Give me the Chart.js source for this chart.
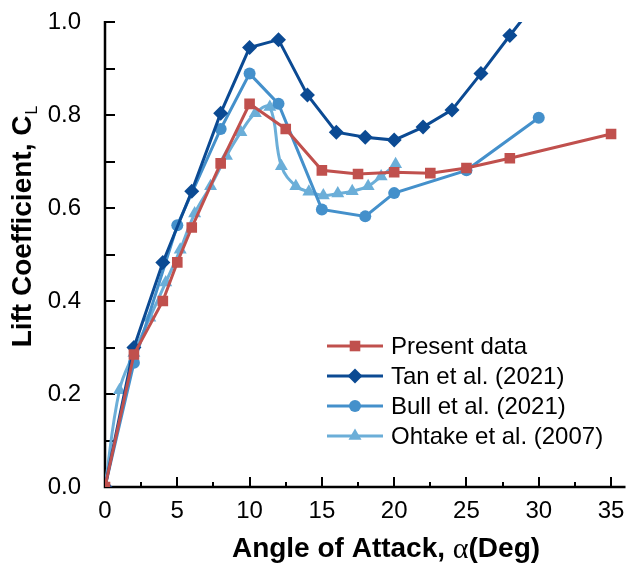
<!DOCTYPE html>
<html>
<head>
<meta charset="utf-8">
<script src="https://cdn.jsdelivr.net/npm/chart.js@4/dist/chart.umd.min.js"></script>
<style>
html, body { margin: 0; padding: 0; background: #fff; }
</style>
</head>
<body>
<canvas id="graphic_cl" width="633" height="571"></canvas>
<script>
// lift coefficient vs angle of attack

var presentAoa = [0, 2, 4, 5, 6, 8, 10, 12.5, 15, 17.5, 20, 22.5, 25, 28, 35];
var presentCl  = [0, 0.285, 0.40, 0.483, 0.558, 0.696, 0.824, 0.77, 0.681, 0.673, 0.677, 0.675, 0.686, 0.707, 0.759];

var tanAoa = [0, 2, 4, 6, 8, 10, 12, 14, 16, 18, 20, 22, 24, 26, 28, 30];
var tanCl  = [0, 0.30, 0.483, 0.636, 0.804, 0.945, 0.962, 0.843, 0.763, 0.752, 0.746, 0.774, 0.811, 0.889, 0.971, 1.05];

var bullAoa = [0, 2, 5, 8, 10, 12, 15, 18, 20, 25, 30];
var bullCl  = [0, 0.267, 0.563, 0.77, 0.889, 0.824, 0.597, 0.582, 0.632, 0.681, 0.794];

var ohtakeAoa = [0, 1, 2, 3.1, 4.2, 5.2, 6.2, 7.3, 8.4, 9.4, 10.4, 11.4, 12.2, 13.2, 14.1, 15.1, 16.1, 17.1, 18.2, 19.1, 20.1];
var ohtakeCl  = [0, 0.208, 0.288, 0.364, 0.44, 0.51, 0.588, 0.647, 0.712, 0.763, 0.804, 0.817, 0.69, 0.647, 0.635, 0.627, 0.631, 0.636, 0.647, 0.668, 0.694];

var seriesNames = ['Present data', 'Tan et al. (2021)', 'Bull et al. (2021)', 'Ohtake et al. (2007)'];

var xTicks = [0, 5, 10, 15, 20, 25, 30, 35];
var yTicks = [0, 0.2, 0.4, 0.6, 0.8, 1.0];

var FONT = '"Liberation Sans", Arial, sans-serif';

function toPoints(xs, ys) {
	return xs.map(function(x, i){ return {x: x, y: ys[i]}; });
}

function drawMarker(ctx, style, r, x, y, color) {
	ctx.fillStyle = color;
	ctx.beginPath();
	if (style === 'rect') {
		var s = r * Math.SQRT1_2;
		ctx.rect(x - s, y - s, 2 * s, 2 * s);
	} else if (style === 'rectRot') {
		ctx.moveTo(x - r, y); ctx.lineTo(x, y - r); ctx.lineTo(x + r, y); ctx.lineTo(x, y + r);
		ctx.closePath();
	} else if (style === 'triangle') {
		ctx.moveTo(x, y - r);
		ctx.lineTo(x + Math.sin(2 * Math.PI / 3) * r, y - Math.cos(2 * Math.PI / 3) * r);
		ctx.lineTo(x + Math.sin(4 * Math.PI / 3) * r, y - Math.cos(4 * Math.PI / 3) * r);
		ctx.closePath();
	} else {
		ctx.arc(x, y, r, 0, Math.PI * 2);
	}
	ctx.fill();
}

// axes with inside ticks, drawn under the data
var axesPlugin = {
	id: 'axesInside',
	beforeDatasetsDraw: function(chart) {
		var ctx = chart.ctx, a = chart.chartArea;
		var sx = chart.scales.x, sy = chart.scales.y;
		ctx.save();
		ctx.strokeStyle = '#000';
		ctx.lineWidth = 2;
		ctx.beginPath();
		for (var v = 0; v <= 35; v += 2.5) {
			var px = Math.round(sx.getPixelForValue(v));
			var len = (v % 5 === 0) ? 10 : 5;
			ctx.moveTo(px, a.bottom);
			ctx.lineTo(px, a.bottom - len);
		}
		for (var i = 0; i <= 10; i++) {
			var py = Math.round(sy.getPixelForValue(i / 10));
			ctx.moveTo(a.left, py);
			ctx.lineTo(a.left + 10, py);
		}
		ctx.stroke();
		ctx.lineWidth = 2.5;
		ctx.beginPath();
		ctx.moveTo(a.left, a.top - 1);
		ctx.lineTo(a.left, a.bottom);
		ctx.lineTo(a.right, a.bottom);
		ctx.stroke();
		ctx.restore();
	},
	afterDraw: function(chart) {
		var ctx = chart.ctx;
		ctx.save();
		ctx.fillStyle = '#000';
		ctx.textBaseline = 'middle';

		// x title
		var p1 = 'Angle of Attack, ', p2 = '\u03b1', p3 = '(Deg)';
		var fb = 'bold 28px ' + FONT, fg = '30px "Liberation Serif", serif';
		ctx.font = fb; var w1 = ctx.measureText(p1).width, w3 = ctx.measureText(p3).width;
		ctx.font = fg; var w2 = ctx.measureText(p2).width;
		var x0 = 386 - (w1 + w2 + w3) / 2, ty = 549;
		ctx.textAlign = 'left';
		ctx.font = fb; ctx.fillText(p1, x0, ty);
		ctx.font = fg; ctx.fillText(p2, x0 + w1, ty + 1);
		ctx.font = fb; ctx.fillText(p3, x0 + w1 + w2, ty);

		// y title with subscript
		ctx.translate(23, 227);
		ctx.rotate(-Math.PI / 2);
		var m = 'Lift Coefficient, C', sub = 'L';
		ctx.font = fb; var wm = ctx.measureText(m).width;
		ctx.font = '16px ' + FONT; var ws = ctx.measureText(sub).width;
		var sx0 = -(wm + ws) / 2;
		ctx.font = fb; ctx.fillText(m, sx0, 0);
		ctx.font = '16px ' + FONT; ctx.fillText(sub, sx0 + wm + 1, 10);
		ctx.restore();

		// legend with line + marker
		ctx.save();
		ctx.font = '24px ' + FONT;
		ctx.textBaseline = 'middle';
		ctx.textAlign = 'left';
		chart.data.datasets.forEach(function(ds, i){
			var y = 346 + i * 30;
			ctx.strokeStyle = ds.borderColor;
			ctx.lineWidth = 3;
			ctx.beginPath();
			ctx.moveTo(327, y); ctx.lineTo(383, y);
			ctx.stroke();
			drawMarker(ctx, ds.pointStyle, ds.pointRadius, 355, y, ds.borderColor);
			ctx.fillStyle = '#000';
			ctx.fillText(ds.label, 391, y + 1);
		});
		ctx.restore();
	}
};

var canvas_cl = document.getElementById('graphic_cl').getContext('2d');

window.graphic_cl = new Chart(canvas_cl, {
	type: 'scatter',
	data: {
		datasets: [{
			label: seriesNames[0],
			data: toPoints(presentAoa, presentCl),
			borderColor: '#C0504D', backgroundColor: '#C0504D',
			pointStyle: 'rect', pointRadius: 7.5
		},
		{
			label: seriesNames[1],
			data: toPoints(tanAoa, tanCl),
			borderColor: '#0B4A93', backgroundColor: '#0B4A93',
			pointStyle: 'rectRot', pointRadius: 7.5
		},
		{
			label: seriesNames[2],
			data: toPoints(bullAoa, bullCl),
			borderColor: '#4490CB', backgroundColor: '#4490CB',
			pointStyle: 'circle', pointRadius: 6
		},
		{
			label: seriesNames[3],
			data: toPoints(ohtakeAoa, ohtakeCl),
			borderColor: '#6BAED8', backgroundColor: '#6BAED8',
			pointStyle: 'triangle', pointRadius: 7.5,
			tension: 0.4
		}]
	},
	options: {
		responsive: false,
		animation: false,
		devicePixelRatio: 1,
		showLine: true,
		datasets: { scatter: { showLine: true, borderWidth: 3, pointBorderWidth: 0, pointHoverRadius: 7 } },
		layout: { padding: { top: 22, right: 3, left: 0, bottom: 0 } },
		plugins: { legend: { display: false }, tooltip: { enabled: false } },
		scales: {
			x: {
				type: 'linear', min: 0, max: 36,
				grid: { display: false }, border: { display: false },
				ticks: { color: '#000', font: { family: FONT, size: 24 }, padding: 2, maxRotation: 0, autoSkip: false },
				afterBuildTicks: function(scale){ scale.ticks = xTicks.map(function(v){ return {value: v}; }); },
				afterFit: function(scale){ scale.height = 84; scale.paddingLeft = 0; scale.paddingRight = 0; }
			},
			y: {
				type: 'linear', min: 0, max: 1,
				grid: { display: false }, border: { display: false },
				ticks: { color: '#000', font: { family: FONT, size: 24 }, padding: 16,
					callback: function(v){ return v.toFixed(1); } },
				afterBuildTicks: function(scale){ scale.ticks = yTicks.map(function(v){ return {value: v}; }); },
				afterFit: function(scale){ scale.width = 105; scale.paddingTop = 0; scale.paddingBottom = 0; }
			}
		}
	},
	plugins: [axesPlugin]
});
</script>
</body>
</html>
